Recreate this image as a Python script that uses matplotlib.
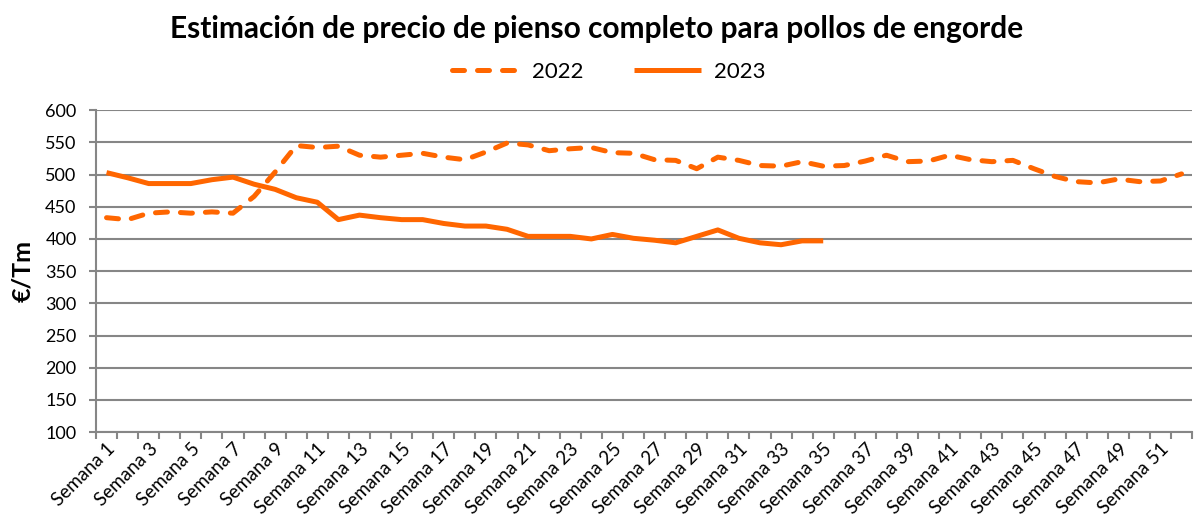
import matplotlib.pyplot as plt
import numpy as np

# data
weeks = ["Semana %d" % i for i in range(1, 53)]
precio_2022 = [433, 430, 440, 442, 440, 442, 440, 466, 504, 545,
               542, 544, 530, 527, 530, 533, 527, 523, 535, 549,
               546, 537, 540, 542, 534, 533, 523, 522, 509, 527,
               522, 514, 513, 520, 513, 514, 521, 530, 520, 521,
               530, 523, 520, 522, 509, 497, 489, 487, 493, 489,
               490, 501]
precio_2023 = [503, 495, 486, 486, 486, 492, 496, 485, 477, 464,
               457, 430, 437, 433, 430, 430, 424, 420, 420, 415,
               404, 404, 404, 400, 407, 401, 398, 394, 404, 414,
               401, 394, 391, 397, 397]
yticks = list(range(100, 601, 50))

color = "#FF6600"
grey = "#868686"
plt.rcParams['font.family'] = ['Lato', 'DejaVu Sans']

fig = plt.figure(figsize=(11.94, 5.27), dpi=100)
ax = fig.add_axes([0.0804, 0.180, 0.918, 0.611])

x22 = np.arange(1, len(precio_2022) + 1)
x23 = np.arange(1, len(precio_2023) + 1)
ax.plot(x22, precio_2022, color=color, lw=3.6, dashes=(2.4, 2.6),
        dash_capstyle='round', dash_joinstyle='round', label="2022")
ax.plot(x23, precio_2023, color=color, lw=3.6, solid_capstyle='butt',
        solid_joinstyle='round', label="2023")

ax.set_xlim(0.5, len(weeks) + 0.5)
ax.set_ylim(100, 600)
ax.set_yticks(yticks)
ax.yaxis.grid(True, color=grey, lw=1.5)
ax.set_axisbelow(True)

# category boundaries carry the tick marks, labels on odd weeks
ax.set_xticks(np.arange(0.5, len(weeks) + 1, 1.0))
ax.set_xticklabels([])
ax.set_xticks(x22[::2], minor=True)
ax.set_xticklabels(weeks[::2], minor=True, rotation=45, ha='right',
                   rotation_mode='anchor', fontsize=13.5)
ax.tick_params(axis='x', which='minor', length=0, pad=6)
ax.tick_params(axis='x', which='major', length=5, width=1.5, color=grey)
ax.tick_params(axis='y', length=5, width=1.5, color=grey, labelsize=13, pad=9)

for s in ['top', 'right']:
    ax.spines[s].set_visible(False)
for s in ['left', 'bottom']:
    ax.spines[s].set_color(grey)
    ax.spines[s].set_linewidth(1.5)

ax.set_ylabel("€/Tm", fontsize=18, fontweight='bold', labelpad=8)
fig.suptitle("Estimación de precio de pienso completo para pollos de engorde",
             fontsize=21.5, fontweight='bold', y=0.972)
fig.legend(loc='upper center', bbox_to_anchor=(0.51, 0.92), ncol=2,
           frameon=False, fontsize=16, handlelength=3.0, handletextpad=0.6,
           columnspacing=2.3)

fig.savefig("out.png", dpi=100)
